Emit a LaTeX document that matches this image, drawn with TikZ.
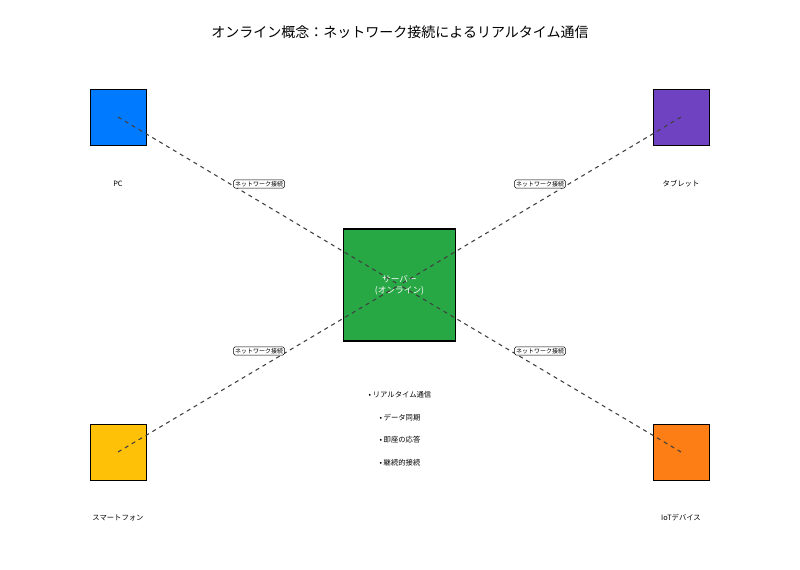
\documentclass[tikz,border=0pt]{standalone}
\usepackage{fontspec}
\setmainfont{Noto Sans CJK JP}
\usetikzlibrary{positioning}
\definecolor{pcblue}{HTML}{007BFF}
\definecolor{tabpurple}{HTML}{6F42C1}
\definecolor{phoneyellow}{HTML}{FFC107}
\definecolor{iotorange}{HTML}{FD7E14}
\definecolor{srvgreen}{HTML}{28A745}
\tikzset{
  device/.style={draw=black, thin, minimum size=42pt, inner sep=0pt},
  devlabel/.style={font=\fontsize{5.5}{6}\selectfont},
  link/.style={dashed, thick, draw=black!75},
  linklabel/.style={draw, fill=white, rounded corners=1pt, inner sep=1pt, font=\fontsize{4.5}{5}\selectfont},
  bullet/.style={font=\fontsize{5.5}{6}\selectfont}
}
\begin{document}
\begin{tikzpicture}[x=0.75pt, y=-0.75pt]
\useasboundingbox (0,0) rectangle (800,570);
\node[font=\fontsize{10.5}{12}\selectfont] (title) at (400,32) {オンライン概念：ネットワーク接続によるリアルタイム通信};

\node[device, fill=srvgreen, minimum size=84pt, thick, align=center, text=white, font=\fontsize{6.5}{8}\selectfont] (srv) at (399.5,285) {サーバー\\(オンライン)};
\node[device, fill=pcblue] (pc) at (118,117) {};
\node[device, fill=tabpurple] (tab) at (681,117) {};
\node[device, fill=phoneyellow] (phone) at (118,452) {};
\node[device, fill=iotorange] (iot) at (681,452) {};

\node[devlabel] at (118,184) {PC};
\node[devlabel] at (681,184) {タブレット};
\node[devlabel] at (118,518) {スマートフォン};
\node[devlabel] at (681,518) {IoTデバイス};

\draw[link] (pc.center) -- (srv.center);
\draw[link] (tab.center) -- (srv.center);
\draw[link] (phone.center) -- (srv.center);
\draw[link] (iot.center) -- (srv.center);

\node[linklabel] at (259,184) {ネットワーク接続};
\node[linklabel] at (540,184) {ネットワーク接続};
\node[linklabel] at (259,351) {ネットワーク接続};
\node[linklabel] at (540,351) {ネットワーク接続};

\node[bullet] (b1) at (400,395) {• リアルタイム通信};
\node[bullet] (b2) at (400,418) {• データ同期};
\node[bullet] (b3) at (400,440) {• 即座の応答};
\node[bullet] (b4) at (400,463) {• 継続的接続};
\end{tikzpicture}
\end{document}
